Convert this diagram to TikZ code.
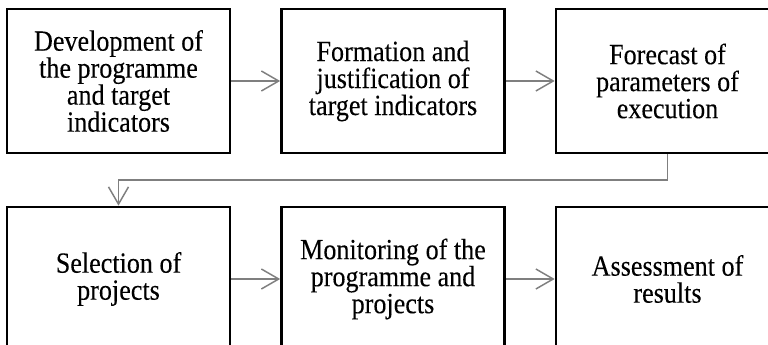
\documentclass[tikz,border=0pt]{standalone}
\usepackage{fontspec}
\setmainfont{Liberation Serif}[FakeStretch=0.89, FakeBold=0.15]
\usetikzlibrary{arrows.meta}
\definecolor{connGray}{HTML}{7F7F7F}
\tikzset{
  stagebox/.style={draw=black, line width=2pt, fill=white, rectangle,
    minimum width=167.25pt, minimum height=108pt, inner sep=0pt,
    align=center, font=\fontsize{22}{20.25}\selectfont},
  conn/.style={draw=connGray, line width=1.1pt,
    -{Straight Barb[length=13pt, width=15pt, line width=1.1pt]}}
}
\begin{document}
\begin{tikzpicture}[x=0.75pt, y=-0.75pt]
  \useasboundingbox (0,0) rectangle (768,345);
  \clip (0,0) rectangle (768,345);
  \fill[white] (0,0) rectangle (768,345);

  % first row
  \node[stagebox] (dev)  at (118.5,81) {Development of\\the programme\\and target\\indicators};
  \node[stagebox] (form) at (393,81)   {Formation and\\justification of\\target indicators};
  \node[stagebox] (fore) at (667.5,81) {Forecast of\\parameters of\\execution};

  % second row
  \node[stagebox] (sel)  at (118.5,279) {Selection of\\projects};
  \node[stagebox] (mon)  at (393,279)   {Monitoring of the\\programme and\\projects};
  \node[stagebox] (ass)  at (667.5,279) {Assessment of\\results};

  \coordinate (turn) at (0,180);

  % connectors
  \draw[conn] (dev.east) -- (form.west);
  \draw[conn] (form.east) -- (fore.west);
  \draw[conn] (fore.south) |- (sel.north |- turn) -- (sel.north);
  \draw[conn] (sel.east) -- (mon.west);
  \draw[conn] (mon.east) -- (ass.west);
\end{tikzpicture}
\end{document}
